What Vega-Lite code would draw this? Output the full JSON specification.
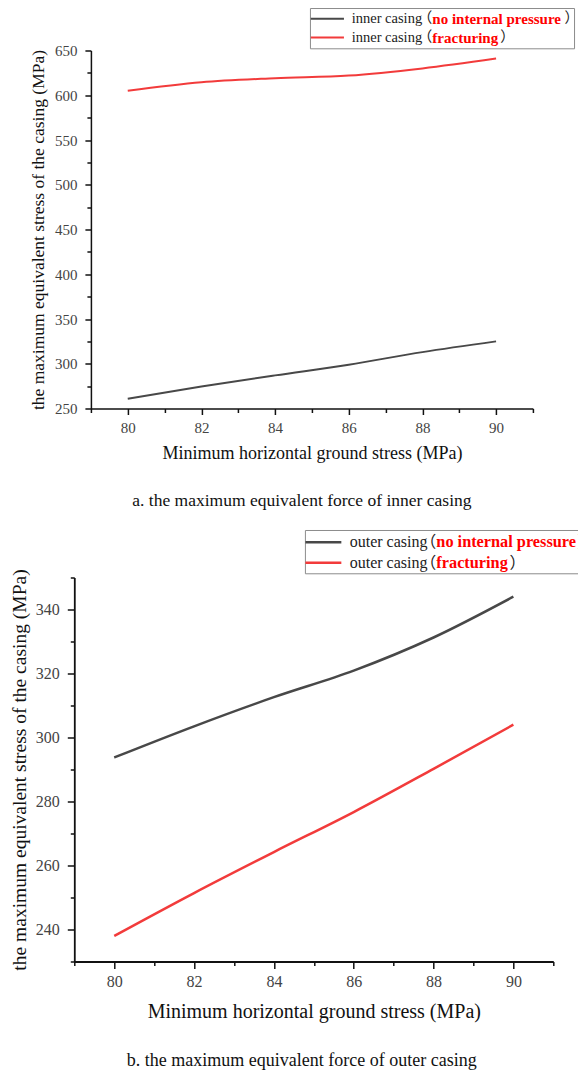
{
 "$schema": "https://vega.github.io/schema/vega-lite/v6.json",
 "background": "white",
 "padding": {"top": 7.5, "left": 9, "right": 0, "bottom": 0},
 "spacing": 20,
 "center": true,
 "config": {"view": {"stroke": null}, "font": "Liberation Serif"},
 "datasets": {
  "inner": [
   {"stress": 80, "max_stress": 261, "series": "no internal pressure"},
   {"stress": 82, "max_stress": 274.5, "series": "no internal pressure"},
   {"stress": 84, "max_stress": 287, "series": "no internal pressure"},
   {"stress": 86, "max_stress": 299, "series": "no internal pressure"},
   {"stress": 88, "max_stress": 313, "series": "no internal pressure"},
   {"stress": 90, "max_stress": 325, "series": "no internal pressure"},
   {"stress": 80, "max_stress": 605, "series": "fracturing"},
   {"stress": 82, "max_stress": 614.5, "series": "fracturing"},
   {"stress": 84, "max_stress": 619, "series": "fracturing"},
   {"stress": 86, "max_stress": 622, "series": "fracturing"},
   {"stress": 88, "max_stress": 630, "series": "fracturing"},
   {"stress": 90, "max_stress": 641, "series": "fracturing"}
  ],
  "outer": [
   {"stress": 80, "max_stress": 293.75, "series": "no internal pressure"},
   {"stress": 82, "max_stress": 303.5, "series": "no internal pressure"},
   {"stress": 84, "max_stress": 312.6, "series": "no internal pressure"},
   {"stress": 86, "max_stress": 320.9, "series": "no internal pressure"},
   {"stress": 88, "max_stress": 331.25, "series": "no internal pressure"},
   {"stress": 90, "max_stress": 344, "series": "no internal pressure"},
   {"stress": 80, "max_stress": 238, "series": "fracturing"},
   {"stress": 82, "max_stress": 251.4, "series": "fracturing"},
   {"stress": 84, "max_stress": 264.2, "series": "fracturing"},
   {"stress": 86, "max_stress": 276.7, "series": "fracturing"},
   {"stress": 88, "max_stress": 290.2, "series": "fracturing"},
   {"stress": 90, "max_stress": 304, "series": "fracturing"}
  ]
 },
 "vconcat": [
  {
   "width": 442,
   "height": 358,
   "title": {"text": "a. the maximum equivalent force of inner casing", "orient": "bottom", "anchor": "middle", "font": "Liberation Serif", "fontSize": 17.5, "fontWeight": "normal", "color": "#111", "offset": 29.5, "dx": -10},
   "layer": [
    {
     "data": {"name": "inner"},
     "mark": {"type": "line", "interpolate": "monotone", "strokeWidth": 2},
     "encoding": {
      "x": {"field": "stress", "type": "quantitative", "scale": {"domain": [79, 91], "nice": false, "zero": false},
       "axis": {"title": "Minimum horizontal ground stress (MPa)", "values": [79, 80, 81, 82, 83, 84, 85, 86, 87, 88, 89, 90, 91], "tickCount": 100, "format": "d",
        "labelExpr": "datum.value % 2 == 0 && datum.value >= 80 && datum.value <= 90 ? datum.label : ''",
        "labelOverlap": false, "labelFlush": false, "grid": false,
        "tickSize": {"condition": {"test": "datum.value % 2 == 0", "value": 6}, "value": 4},
        "tickWidth": 1.5, "tickColor": "#111", "domainColor": "#111", "domainWidth": 1.5,
        "labelFont": "Liberation Serif", "labelFontSize": 15, "labelColor": "#444", "labelPadding": 6,
        "titleFont": "Liberation Serif", "titleFontSize": 18, "titleFontWeight": "normal", "titleColor": "#111", "titlePadding": 8.5}},
      "y": {"field": "max_stress", "type": "quantitative", "scale": {"domain": [250, 650], "nice": false, "zero": false},
       "axis": {"title": "the maximum equivalent stress of the casing (MPa)", "values": [250, 275, 300, 325, 350, 375, 400, 425, 450, 475, 500, 525, 550, 575, 600, 625, 650], "tickCount": 100, "format": "d",
        "labelExpr": "datum.value % 50 == 0 ? datum.label : ''",
        "labelOverlap": false, "labelFlush": false, "grid": false,
        "tickSize": {"condition": {"test": "datum.value % 50 == 0", "value": 6}, "value": 4},
        "tickWidth": 1.5, "tickColor": "#111", "domainColor": "#111", "domainWidth": 1.5,
        "labelFont": "Liberation Serif", "labelFontSize": 15, "labelColor": "#444", "labelPadding": 8,
        "titleFont": "Liberation Serif", "titleFontSize": 17.5, "titleFontWeight": "normal", "titleColor": "#111", "titlePadding": 6.5}},
      "color": {"field": "series", "type": "nominal", "scale": {"domain": ["no internal pressure", "fracturing"], "range": ["#484848", "#f23b3b"]}, "legend": null}
     }
    },
    {"data": {"values": [{}]}, "mark": {"type": "rect", "fill": "white", "stroke": "#8c8c8c", "strokeWidth": 1},
     "encoding": {"x": {"datum": 84.96}, "x2": {"datum": 92.13}, "y": {"datum": 696.9}, "y2": {"datum": 651.9}}},
    {"data": {"values": [{}]}, "mark": {"type": "rule", "color": "#484848", "strokeWidth": 2},
     "encoding": {"x": {"datum": 84.97}, "x2": {"datum": 85.87}, "y": {"datum": 685.4}}},
    {"data": {"values": [{}]}, "mark": {"type": "rule", "color": "#f23b3b", "strokeWidth": 2},
     "encoding": {"x": {"datum": 84.97}, "x2": {"datum": 85.87}, "y": {"datum": 664.5}}},
    {"data": {"values": [{}]}, "mark": {"type": "text", "text": "inner casing", "align": "left", "baseline": "middle", "font": "Liberation Serif", "fontSize": 14.5, "color": "#222"},
     "encoding": {"x": {"datum": 86.08}, "y": {"datum": 685.4}}},
    {"data": {"values": [{}]}, "mark": {"type": "text", "text": "inner casing", "align": "left", "baseline": "middle", "font": "Liberation Serif", "fontSize": 14.5, "color": "#222"},
     "encoding": {"x": {"datum": 86.08}, "y": {"datum": 664.5}}},
    {"data": {"values": [{}]}, "mark": {"type": "text", "text": "（", "align": "right", "baseline": "middle", "font": "Noto Sans CJK SC", "fontSize": 14.5, "color": "#222"},
     "encoding": {"x": {"datum": 88.27}, "y": {"datum": 685.4}}},
    {"data": {"values": [{}]}, "mark": {"type": "text", "text": "（", "align": "right", "baseline": "middle", "font": "Noto Sans CJK SC", "fontSize": 14.5, "color": "#222"},
     "encoding": {"x": {"datum": 88.27}, "y": {"datum": 664.5}}},
    {"data": {"values": [{}]}, "mark": {"type": "text", "text": "no internal pressure", "align": "left", "baseline": "middle", "font": "Liberation Serif", "fontWeight": "bold", "fontSize": 15, "color": "#ff0000"},
     "encoding": {"x": {"datum": 88.27}, "y": {"datum": 685.4}}},
    {"data": {"values": [{}]}, "mark": {"type": "text", "text": "fracturing", "align": "left", "baseline": "middle", "font": "Liberation Serif", "fontWeight": "bold", "fontSize": 15, "color": "#ff0000"},
     "encoding": {"x": {"datum": 88.27}, "y": {"datum": 664.5}}},
    {"data": {"values": [{}]}, "mark": {"type": "text", "text": "）", "align": "left", "baseline": "middle", "font": "Noto Sans CJK SC", "fontSize": 14.5, "color": "#222"},
     "encoding": {"x": {"datum": 91.86}, "y": {"datum": 685.4}}},
    {"data": {"values": [{}]}, "mark": {"type": "text", "text": "）", "align": "left", "baseline": "middle", "font": "Noto Sans CJK SC", "fontSize": 14.5, "color": "#222"},
     "encoding": {"x": {"datum": 90.11}, "y": {"datum": 664.5}}}
   ]
  },
  {
   "width": 479,
   "height": 384,
   "title": {"text": "b. the maximum equivalent force of outer casing", "orient": "bottom", "anchor": "middle", "font": "Liberation Serif", "fontSize": 18, "fontWeight": "normal", "color": "#111", "offset": 30, "dx": -12},
   "layer": [
    {
     "data": {"name": "outer"},
     "mark": {"type": "line", "interpolate": "monotone", "strokeWidth": 2.5},
     "encoding": {
      "x": {"field": "stress", "type": "quantitative", "scale": {"domain": [79, 91], "nice": false, "zero": false},
       "axis": {"title": "Minimum horizontal ground stress (MPa)", "values": [79, 80, 81, 82, 83, 84, 85, 86, 87, 88, 89, 90, 91], "tickCount": 100, "format": "d",
        "labelExpr": "datum.value % 2 == 0 && datum.value >= 80 && datum.value <= 90 ? datum.label : ''",
        "labelOverlap": false, "labelFlush": false, "grid": false,
        "tickSize": {"condition": {"test": "datum.value % 2 == 0", "value": 7}, "value": 4},
        "tickWidth": 1.5, "tickColor": "#111", "domainColor": "#111", "domainWidth": 1.8,
        "labelFont": "Liberation Serif", "labelFontSize": 16, "labelColor": "#444", "labelPadding": 5,
        "titleFont": "Liberation Serif", "titleFontSize": 20, "titleFontWeight": "normal", "titleColor": "#111", "titlePadding": 12}},
      "y": {"field": "max_stress", "type": "quantitative", "scale": {"domain": [230, 350], "nice": false, "zero": false},
       "axis": {"title": "the maximum equivalent stress of the casing (MPa)", "values": [230, 240, 250, 260, 270, 280, 290, 300, 310, 320, 330, 340, 350], "tickCount": 100, "format": "d",
        "labelExpr": "datum.value % 20 == 0 ? datum.label : ''",
        "labelOverlap": false, "labelFlush": false, "grid": false,
        "tickSize": {"condition": {"test": "datum.value % 20 == 0", "value": 7}, "value": 4},
        "tickWidth": 1.5, "tickColor": "#111", "domainColor": "#111", "domainWidth": 1.8,
        "labelFont": "Liberation Serif", "labelFontSize": 16, "labelColor": "#444", "labelPadding": 8,
        "titleFont": "Liberation Serif", "titleFontSize": 19.5, "titleFontWeight": "normal", "titleColor": "#111", "titlePadding": 6}},
      "color": {"field": "series", "type": "nominal", "scale": {"domain": ["no internal pressure", "fracturing"], "range": ["#484848", "#f23b3b"]}, "legend": null}
     }
    },
    {"data": {"values": [{}]}, "mark": {"type": "rect", "fill": "white", "stroke": "#8c8c8c", "strokeWidth": 1},
     "encoding": {"x": {"datum": 84.79}, "x2": {"datum": 92.05}, "y": {"datum": 364.69}, "y2": {"datum": 351.16}}},
    {"data": {"values": [{}]}, "mark": {"type": "rule", "color": "#484848", "strokeWidth": 2.5},
     "encoding": {"x": {"datum": 84.79}, "x2": {"datum": 85.69}, "y": {"datum": 361.03}}},
    {"data": {"values": [{}]}, "mark": {"type": "rule", "color": "#f23b3b", "strokeWidth": 2.5},
     "encoding": {"x": {"datum": 84.79}, "x2": {"datum": 85.69}, "y": {"datum": 354.59}}},
    {"data": {"values": [{}]}, "mark": {"type": "text", "text": "outer casing", "align": "left", "baseline": "middle", "font": "Liberation Serif", "fontSize": 16, "color": "#222"},
     "encoding": {"x": {"datum": 85.9}, "y": {"datum": 361.03}}},
    {"data": {"values": [{}]}, "mark": {"type": "text", "text": "outer casing", "align": "left", "baseline": "middle", "font": "Liberation Serif", "fontSize": 16, "color": "#222"},
     "encoding": {"x": {"datum": 85.9}, "y": {"datum": 354.59}}},
    {"data": {"values": [{}]}, "mark": {"type": "text", "text": "（", "align": "right", "baseline": "middle", "font": "Noto Sans CJK SC", "fontSize": 16, "color": "#222"},
     "encoding": {"x": {"datum": 88.07}, "y": {"datum": 361.03}}},
    {"data": {"values": [{}]}, "mark": {"type": "text", "text": "（", "align": "right", "baseline": "middle", "font": "Noto Sans CJK SC", "fontSize": 16, "color": "#222"},
     "encoding": {"x": {"datum": 88.07}, "y": {"datum": 354.59}}},
    {"data": {"values": [{}]}, "mark": {"type": "text", "text": "no internal pressure", "align": "left", "baseline": "middle", "font": "Liberation Serif", "fontWeight": "bold", "fontSize": 16.3, "color": "#ff0000"},
     "encoding": {"x": {"datum": 88.07}, "y": {"datum": 361.03}}},
    {"data": {"values": [{}]}, "mark": {"type": "text", "text": "fracturing", "align": "left", "baseline": "middle", "font": "Liberation Serif", "fontWeight": "bold", "fontSize": 16.3, "color": "#ff0000"},
     "encoding": {"x": {"datum": 88.07}, "y": {"datum": 354.59}}},
    {"data": {"values": [{}]}, "mark": {"type": "text", "text": "）", "align": "left", "baseline": "middle", "font": "Noto Sans CJK SC", "fontSize": 16, "color": "#222"},
     "encoding": {"x": {"datum": 91.6}, "y": {"datum": 361.03}}},
    {"data": {"values": [{}]}, "mark": {"type": "text", "text": "）", "align": "left", "baseline": "middle", "font": "Noto Sans CJK SC", "fontSize": 16, "color": "#222"},
     "encoding": {"x": {"datum": 89.9}, "y": {"datum": 354.59}}}
   ]
  }
 ]
}
